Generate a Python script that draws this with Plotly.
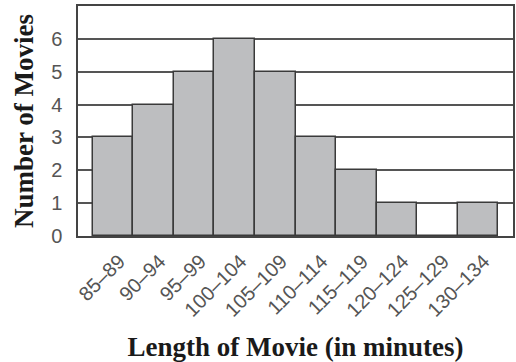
import plotly.graph_objects as go

categories = ["85–89", "90–94", "95–99", "100–104", "105–109", "110–114",
              "115–119", "120–124", "125–129", "130–134"]
counts = [3, 4, 5, 6, 5, 3, 2, 1, 0, 1]
y_ticks = [0, 1, 2, 3, 4, 5, 6]

fig = go.Figure(go.Bar(
    x=list(range(len(categories))),
    y=counts,
    width=1,
    marker=dict(color="#bdbec0", line=dict(color="#3a3a3a", width=1.5)),
))

titlefont = dict(family="Liberation Serif, Times New Roman, serif", size=27, color="#1a1a1a")

fig.update_layout(
    width=516, height=362,
    margin=dict(l=78, r=3, t=6, b=126),
    paper_bgcolor="white", plot_bgcolor="white",
    showlegend=False,
    bargap=0,
    xaxis=dict(
        range=[-0.87, 9.87],
        automargin=False,
        tickmode="array",
        tickvals=list(range(len(categories))),
        ticktext=categories,
        tickangle=-45,
        tickfont=dict(family="Liberation Sans, Arial", size=20, color="#555555"),
        showgrid=False, zeroline=False,
        showline=True, linecolor="#444444", linewidth=1.5, mirror=True,
        ticks="", ticklabelstandoff=4, ticklabelshift=6,
        title=dict(text="<b>Length of Movie (in minutes)</b>", font=titlefont, standoff=20),
    ),
    yaxis=dict(
        range=[0, 7],
        automargin=False,
        tickmode="array",
        tickvals=y_ticks,
        ticktext=[str(v) for v in y_ticks],
        tickfont=dict(family="Liberation Sans Narrow, Liberation Sans, Arial", size=20, color="#555555"),
        showgrid=True, gridcolor="#555555", gridwidth=1.5,
        zeroline=False,
        showline=True, linecolor="#444444", linewidth=1.5, mirror=True,
        ticks="", ticklabelstandoff=10,
        title=dict(text="<b>Number of Movies</b>", font=titlefont, standoff=10),
    ),
)

fig.write_html("out.html", config={"displayModeBar": False},
               post_script="document.body.style.margin='0';document.body.style.overflow='hidden';")
